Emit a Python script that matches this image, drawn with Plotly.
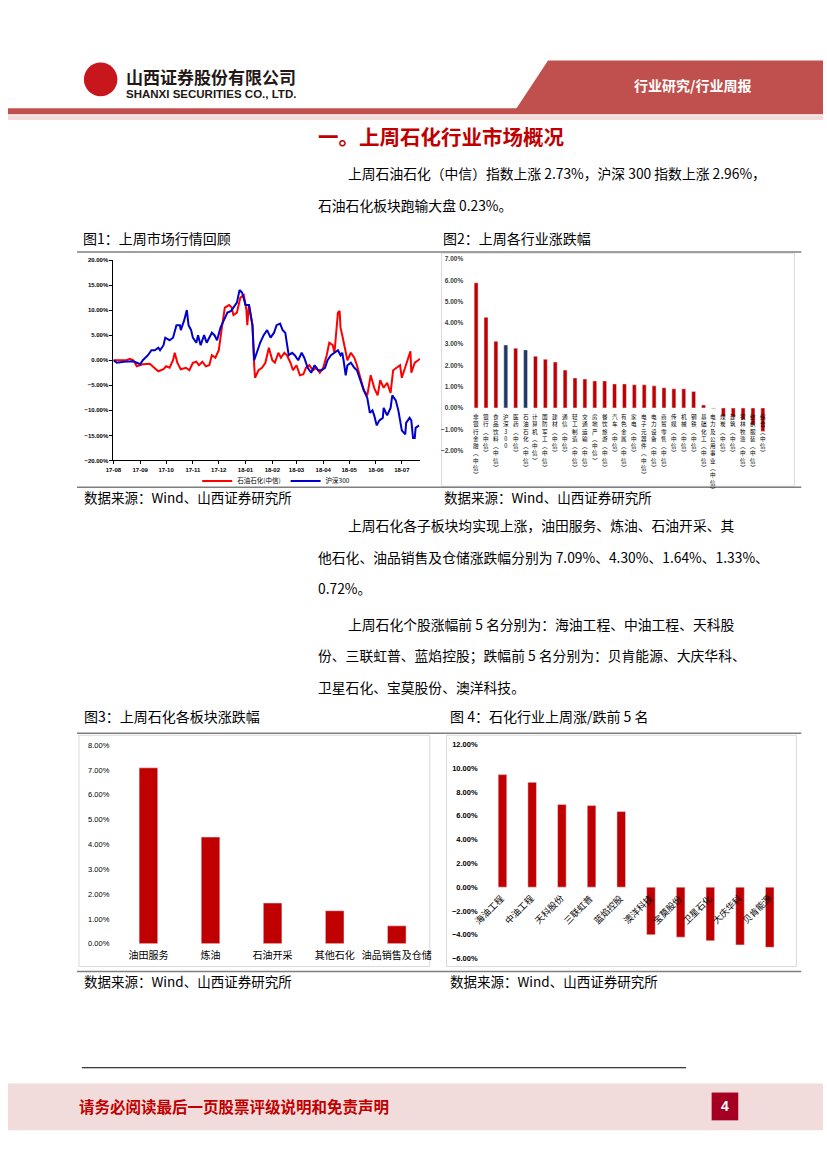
import plotly.graph_objects as go

W, H = 827, 1169
def X(p): return p / W
def Y(p): return 1 - p / H

# ---------------- data ----------------
red_dates = ["2017-08-01","2017-08-08","2017-08-16","2017-08-20","2017-08-24","2017-08-28","2017-09-04","2017-09-12",
 "2017-09-18","2017-09-22","2017-09-28","2017-10-01","2017-10-05","2017-10-09","2017-10-11","2017-10-14","2017-10-18",
 "2017-10-24","2017-10-28","2017-11-01","2017-11-05","2017-11-08","2017-11-12","2017-11-16","2017-11-20","2017-11-23",
 "2017-11-27","2017-12-01","2017-12-05","2017-12-08","2017-12-13","2017-12-16","2017-12-18","2017-12-22","2017-12-26",
 "2017-12-30","2018-01-02","2018-01-03","2018-01-05","2018-01-09","2018-01-11","2018-01-12","2018-01-16","2018-01-20",
 "2018-01-24","2018-01-28","2018-02-01","2018-02-04","2018-02-08","2018-02-11","2018-02-15","2018-02-18","2018-02-22",
 "2018-02-25","2018-03-01","2018-03-05","2018-03-09","2018-03-12","2018-03-16","2018-03-20","2018-03-24","2018-03-28",
 "2018-04-01","2018-04-05","2018-04-08","2018-04-12","2018-04-14","2018-04-16","2018-04-18","2018-04-20","2018-04-21",
 "2018-04-23","2018-04-25","2018-04-27","2018-04-29","2018-05-03","2018-05-07","2018-05-10","2018-05-14","2018-05-18",
 "2018-05-22","2018-05-26","2018-05-30","2018-06-03","2018-06-06","2018-06-10","2018-06-14","2018-06-18","2018-06-21",
 "2018-06-25","2018-06-29","2018-07-01","2018-07-05","2018-07-09","2018-07-11","2018-07-12","2018-07-16","2018-07-20",
 "2018-07-22"]
red_vals = [0, 0, 0, 0.3, 0, -1.2, -0.8, -0.7, -1.5, -2.2, -1.8, -1.2, -1.5, 0, 1.5, -0.5, -1.8,
 -1.5, -2.0, -0.5, -0.3, -1.0, -0.3, -1.2, -1.0, 1.0, 0.5, 2.0, 7.0, 10.5, 11.0, 10.5, 9.0, 9.5, 12.5,
 13.0, 10.0, 7.0, 11.0, 7.0, -1.0, -3.5, -2.0, -1.5, -0.5, 2.5, 0, -0.5, 1.5, 0.5, 1.5, 1.0, -0.5,
 -2.0, -1.0, -3.0, -2.8, -1.5, -1.0, -2.0, -1.5, -2.5, -1.5, 1.0, 3.5, 3.0, 1.5, 6.0, 9.5, 9.8, 6.5,
 5.0, 3.5, 2.0, 0, 1.5, 0.5, -1.0, -3.5, -6.0, -7.0, -3.0, -5.5, -7.0, -4.0, -5.5, -4.5, -6.5, -2.0,
 -1.5, -1.0, -3.5, -1.5, 0.5, 1.8, -2.5, -0.5, 0, 0.3]

blue_dates = ["2017-08-01","2017-08-05","2017-08-13","2017-08-20","2017-08-24","2017-08-28","2017-09-01","2017-09-04",
 "2017-09-10","2017-09-14","2017-09-18","2017-09-22","2017-09-24","2017-09-28","2017-09-30","2017-10-05","2017-10-09",
 "2017-10-13","2017-10-17","2017-10-18","2017-10-22","2017-10-25","2017-10-27","2017-10-30","2017-11-01","2017-11-05",
 "2017-11-07","2017-11-10","2017-11-14","2017-11-17","2017-11-20","2017-11-23","2017-11-26","2017-11-29","2017-12-03",
 "2017-12-07","2017-12-11","2017-12-15","2017-12-18","2017-12-22","2017-12-25","2017-12-28","2018-01-01","2018-01-05",
 "2018-01-09","2018-01-11","2018-01-14","2018-01-18","2018-01-22","2018-01-26","2018-01-30","2018-02-03","2018-02-06",
 "2018-02-10","2018-02-13","2018-02-16","2018-02-20","2018-02-24","2018-02-27","2018-03-03","2018-03-07","2018-03-10",
 "2018-03-14","2018-03-18","2018-03-22","2018-03-26","2018-03-30","2018-04-03","2018-04-06","2018-04-10","2018-04-14",
 "2018-04-18","2018-04-21","2018-04-23","2018-04-25","2018-04-27","2018-04-29","2018-05-03","2018-05-07","2018-05-10",
 "2018-05-14","2018-05-18","2018-05-22","2018-05-25","2018-05-28","2018-05-30","2018-06-02","2018-06-05","2018-06-09",
 "2018-06-10","2018-06-14","2018-06-18","2018-06-20","2018-06-24","2018-06-27","2018-07-01","2018-07-05","2018-07-06",
 "2018-07-10","2018-07-12","2018-07-14","2018-07-16","2018-07-17","2018-07-19","2018-07-21"]
blue_vals = [0, -0.5, -0.3, -0.3, -0.2, -0.5, -0.8, 0, 1.0, 2.0, 2.0, 2.5, 2.0, 3.0, 4.5, 4.0, 4.5,
 7.0, 7.0, 6.0, 8.0, 10.0, 7.0, 6.0, 4.5, 3.5, 5.0, 3.0, 5.0, 3.5, 4.5, 5.5, 5.0, 4.0, 6.5,
 8.0, 9.5, 9.8, 10.5, 11.5, 14.0, 13.5, 11.0, 11.0, 7.0, 0, 1.5, 3.5, 5.0, 6.0, 4.5, 5.5, 7.0,
 7.3, 6.0, 5.5, 1.0, 1.5, 1.0, 0, 1.5, 0.5, -1.5, -2.5, -1.0, -2.0, -2.0, -1.5, 0, 1.0, 1.5,
 2.0, 1.0, 1.5, -0.5, -3.0, -1.0, -0.5, -1.5, -2.0, -4.0, -6.0, -7.5, -10.5, -10.0, -11.0, -13.0, -12.0, -11.5,
 -9.5, -11.0, -9.5, -7.0, -8.0, -10.0, -14.0, -14.8, -12.5, -11.5, -12.0, -15.5, -15.5, -13.5, -13.3, -13.0]

ind_names = ["非银行金融(中信)","银行(中信)","食品饮料(中信)","沪深300","医药(中信)","石油石化(中信)",
 "计算机(中信)","国防军工(中信)","建材(中信)","通信(中信)","轻工制造(中信)","交通运输(中信)",
 "房地产(中信)","餐饮旅游(中信)","汽车(中信)","有色金属(中信)","家电(中信)","电子元器件(中信)",
 "电力设备(中信)","商贸零售(中信)","传媒(中信)","机械(中信)","钢铁(中信)","基础化工(中信)",
 "电力及公用事业(中信)","煤炭(中信)","建筑(中信)","农林牧渔(中信)","纺织服装(中信)","综合(中信)"]
ind_vals = [5.88, 4.26, 3.13, 2.96, 2.81, 2.73, 2.43, 2.29, 2.16, 1.78, 1.41, 1.36,
 1.27, 1.27, 1.13, 1.13, 1.09, 1.09, 1.04, 0.95, 0.90, 0.90, 0.78, 0.14,
 -0.02, -0.40, -0.42, -0.55, -0.80, -1.10]
ind_highlight = ["沪深300", "石油石化(中信)"]

sub_names = ["油田服务", "炼油", "石油开采", "其他石化", "油品销售及仓储"]
sub_vals = [7.09, 4.30, 1.64, 1.33, 0.72]

stock_names = ["海油工程", "中油工程", "天科股份", "三联虹普", "蓝焰控股",
               "澳洋科技", "宝莫股份", "卫星石化", "大庆华科", "贝肯能源"]
stock_vals = [9.45, 8.80, 6.95, 6.85, 6.35, -4.00, -4.20, -4.50, -4.85, -5.05]

RED = "#C00000"
NAVY = "#1F3864"
CJK = "Noto Sans CJK SC"
LAT = "Liberation Sans"

fig = go.Figure()

# Figure 1 lines
fig.add_trace(go.Scatter(x=red_dates, y=red_vals, mode="lines", name="石油石化(中信)",
                         line=dict(color="#FF0000", width=2), xaxis="x", yaxis="y"))
fig.add_trace(go.Scatter(x=blue_dates, y=blue_vals, mode="lines", name="沪深300",
                         line=dict(color="#0000CC", width=2), xaxis="x", yaxis="y"))

# Figure 2 bars
ind_colors = [NAVY if n in ind_highlight else RED for n in ind_names]
fig.add_trace(go.Bar(x=ind_names, y=ind_vals, marker_color=ind_colors, width=0.4,
                     showlegend=False, xaxis="x2", yaxis="y2"))
# Figure 3 bars
fig.add_trace(go.Bar(x=sub_names, y=sub_vals, marker_color=RED, width=0.3,
                     showlegend=False, xaxis="x3", yaxis="y3"))
# Figure 4 bars
fig.add_trace(go.Bar(x=stock_names, y=stock_vals, marker_color=RED, width=0.29,
                     showlegend=False, xaxis="x4", yaxis="y4"))

ann = []
shapes = []

def text(x, y, s, size, color="#000000", family=CJK, anchor="left", weight="normal"):
    ann.append(dict(x=X(x), y=Y(y), xref="paper", yref="paper", text=s, showarrow=False,
                    xanchor=anchor, yanchor="middle",
                    font=dict(size=size, color=color, family=family, weight=weight)))

def rect(x0, y0, x1, y1, fill=None, line=None, lw=1):
    shapes.append(dict(type="rect", xref="paper", yref="paper", x0=X(x0), x1=X(x1), y0=Y(y1), y1=Y(y0),
                       fillcolor=fill if fill else "rgba(0,0,0,0)",
                       line=dict(color=line if line else "rgba(0,0,0,0)", width=lw if line else 0),
                       layer="below"))

def hline(x0, x1, y, color="#000000", lw=1):
    shapes.append(dict(type="line", xref="paper", yref="paper", x0=X(x0), x1=X(x1), y0=Y(y), y1=Y(y),
                       line=dict(color=color, width=lw)))

# ---- header ----
shapes.append(dict(type="path", xref="paper", yref="paper",
                   path=f"M {X(548)},{Y(57)} L {X(827)},{Y(57)} L {X(827)},{Y(108)} L {X(514)},{Y(108)} Z",
                   fillcolor="#C0504D", line=dict(width=0)))
rect(0, 105, 827, 111, fill="#C0504D")
rect(0, 112, 827, 117, fill="#F2DCDB")
text(695, 82, "行业研究/行业周报", 14, "#FFFFFF", weight="bold", anchor="center")
# logo
shapes.append(dict(type="circle", xref="paper", yref="paper", x0=X(77), x1=X(111), y0=Y(93), y1=Y(59),
                   fillcolor="#C8161D", line=dict(width=0)))
rect(85, 67, 103, 85, line="#FFFFFF", lw=2)
rect(89.5, 71.5, 98.5, 80.5, fill="#FFFFFF")
rect(91.5, 73.5, 96.5, 78.5, fill="#C8161D")
rect(93, 59, 95, 67, fill="#FFFFFF")
rect(93, 85, 95, 93, fill="#FFFFFF")
text(118, 73, "山西证券股份有限公司", 17, "#231815", weight="bold")
text(118, 91, "SHANXI SECURITIES CO., LTD.", 11.5, "#231815", family=LAT, weight="bold")

# ---- body text ----
text(313, 133, "一。上周石化行业市场概况", 20.5, RED, weight="bold")
text(343, 170, "上周石油石化（中信）指数上涨 2.73%，沪深 300 指数上涨 2.96%，", 13.8)
text(313, 203, "石油石化板块跑输大盘 0.23%。", 13.8)
text(74, 236, "图1：上周市场行情回顾", 14)
text(439, 236, "图2：上周各行业涨跌幅", 14)
text(75, 497, "数据来源：Wind、山西证券研究所", 13.5)
text(440, 497, "数据来源：Wind、山西证券研究所", 13.5)
text(343, 525, "上周石化各子板块均实现上涨，油田服务、炼油、石油开采、其", 13.8)
text(313, 557, "他石化、油品销售及仓储涨跌幅分别为 7.09%、4.30%、1.64%、1.33%、", 13.8)
text(313, 589, "0.72%。", 13.8)
text(343, 625, "上周石化个股涨幅前 5 名分别为：海油工程、中油工程、天科股", 13.8)
text(313, 656, "份、三联虹普、蓝焰控股；跌幅前 5 名分别为：贝肯能源、大庆华科、", 13.8)
text(313, 688, "卫星石化、宝莫股份、澳洋科技。", 13.8)
text(75, 718, "图3：上周石化各板块涨跌幅", 14)
text(446, 718, "图 4：石化行业上周涨/跌前 5 名", 14)
text(75, 985, "数据来源：Wind、山西证券研究所", 13.5)
text(446, 985, "数据来源：Wind、山西证券研究所", 13.5)

# rules
hline(70, 805, 250, "#7F7F7F", 1.5)
hline(70, 805, 487, "#7F7F7F", 1.5)
hline(70, 805, 735, "#7F7F7F", 1.5)
hline(70, 805, 975, "#7F7F7F", 1.5)
# chart borders
rect(440, 251, 798, 486, line="#D9D9D9", lw=1)
rect(72, 737, 428, 970, line="#D9D9D9", lw=1)
rect(445, 737, 800, 970, line="#D9D9D9", lw=1)

# ---- footer ----
hline(75, 688, 1072, "#000000", 1)
rect(0, 1088, 827, 1135, fill="#F2DCDB")
text(70, 1111, "请务必阅读最后一页股票评级说明和免责声明", 15.5, RED, weight="bold")
rect(714, 1097, 741, 1125, fill="#A50021")
text(727.5, 1111, "4", 14, "#FFFFFF", family=LAT, weight="bold", anchor="center")

# figure 2 vertical category labels
vmap = {"(": "︵", ")": "︶"}
for n in ind_names:
    ann.append(dict(x=n, y=0, xref="x2", yref="y2", yanchor="top", xanchor="center", yshift=-3,
                    showarrow=False, text="<br>".join(vmap.get(c, c) for c in n),
                    font=dict(size=5.6, family=CJK, color="#000000")))
# figure 4 rotated labels
for n in stock_names:
    ann.append(dict(x=n, y=0, xref="x4", yref="y4", yanchor="top", xanchor="right", xshift=7, yshift=-2,
                    showarrow=False, text=n, textangle=-45,
                    font=dict(size=9, family=CJK, color="#000000")))

tick_small = dict(size=6, family=LAT, color="#000000", weight="bold")

fig.update_layout(
    width=W, height=H, margin=dict(l=0, r=0, t=0, b=0), autosize=False,
    paper_bgcolor="#FFFFFF", plot_bgcolor="rgba(0,0,0,0)",
    annotations=ann, shapes=shapes,
    legend=dict(orientation="h", x=X(192), y=Y(466), xanchor="left", yanchor="top",
                font=dict(size=6.5, family=CJK, color="#000000"), itemwidth=30,
                bgcolor="rgba(0,0,0,0)", tracegroupgap=0),
    xaxis=dict(domain=[X(107), X(418)], anchor="y", type="date",
               range=["2017-08-01", "2018-07-22"], dtick="M1", tick0="2017-08-01", tickformat="%y-%m",
               showline=True, linecolor="#000000", linewidth=1, ticks="outside", ticklen=3,
               tickcolor="#000000", showgrid=False, tickfont=tick_small),
    yaxis=dict(domain=[Y(460), Y(258)], anchor="x", range=[-20, 20], dtick=5,
               tickformat=".2f", ticksuffix="%", showline=True, linecolor="#000000", linewidth=1,
               ticks="outside", ticklen=3, tickcolor="#000000", showgrid=False, zeroline=False,
               tickfont=tick_small),
    xaxis2=dict(domain=[X(470), X(771)], anchor="y2", type="category", range=[-0.5, 29.5],
                showticklabels=False, showline=False, showgrid=False, zeroline=False),
    yaxis2=dict(domain=[Y(450), Y(257)], anchor="x2", range=[-2, 7], dtick=1,
                tickformat=".2f", ticksuffix="%", showgrid=False, zeroline=False, showline=False,
                ticklabelstandoff=7, tickfont=dict(size=6.5, family=LAT, color="#404040", weight="bold")),
    xaxis3=dict(domain=[X(111), X(426)], anchor="y3", type="category", showline=False, showgrid=False,
                tickfont=dict(size=10, family=CJK, color="#000000"), ticklabelstandoff=4),
    yaxis3=dict(domain=[Y(947), Y(747)], anchor="x3", range=[0, 8], dtick=1,
                tickformat=".2f", ticksuffix="%", showgrid=False, zeroline=False, showline=False,
                ticklabelstandoff=7, tickfont=dict(size=7.5, family=LAT, color="#000000")),
    xaxis4=dict(domain=[X(486.7), X(788)], anchor="y4", type="category", range=[-0.5, 9.5],
                showticklabels=False, showline=False, showgrid=False, zeroline=False),
    yaxis4=dict(domain=[Y(962), Y(746)], anchor="x4", range=[-6, 12], dtick=2,
                tickformat=".2f", ticksuffix="%", showgrid=False, zeroline=False, showline=False,
                ticklabelstandoff=9, tickfont=dict(size=7.5, family=LAT, color="#000000", weight="bold")),
)

fix_js = ("document.documentElement.style.margin='0';document.documentElement.style.padding='0';"
          "document.documentElement.style.overflow='hidden';"
          "document.body.style.margin='0';document.body.style.padding='0';document.body.style.overflow='hidden';"
          "var gd=document.querySelector('.plotly-graph-div');"
          "if(gd){gd.style.position='fixed';gd.style.left='0px';gd.style.top='0px';}")

fig.write_html("out.html", config={"displayModeBar": False, "responsive": False}, post_script=fix_js)
